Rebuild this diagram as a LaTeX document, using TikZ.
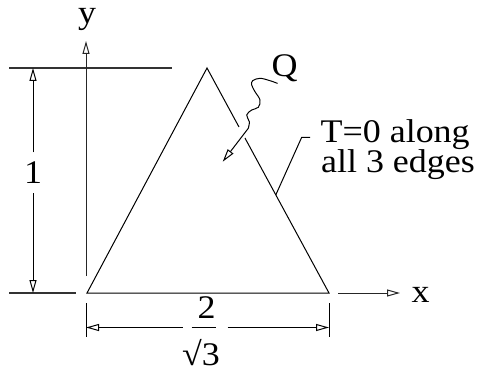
\documentclass[tikz,border=0pt]{standalone}
\usepackage{fontspec}
\setmainfont{Liberation Serif}
\usetikzlibrary{arrows.meta,calc}
\begin{document}
\begin{tikzpicture}[x=1pt,y=-1pt, line width=1pt,
  lbl/.style={font=\fontsize{33}{36}\selectfont, inner sep=0pt, xscale=1.09},
  tipd/.style={-{Triangle[open,length=13pt,width=7pt]}},
  refline/.style={line width=1.3pt, black!80}]
\useasboundingbox (0,0) rectangle (484,371);
% triangle
\coordinate (A) at (87,293);
\coordinate (B) at (329,293);
\coordinate (C) at (207,68);
\draw[line join=miter] ($(C)!0.262!(B)$) -- (C) -- (A) -- (B) -- ($(C)!0.311!(B)$);
% reference lines
\coordinate (rt1) at (9,68);
\coordinate (rt2) at (172,68);
\draw[refline] (rt1) -- (rt2);
\coordinate (rb1) at (9,293);
\coordinate (rb2) at (76,293);
\draw[refline] (rb1) -- (rb2);
% vertical dimension
\node[lbl, minimum height=40pt] (one) at (33,173) {1};
\coordinate (d1t) at (33,68);
\coordinate (d1b) at (33,293);
\draw[tipd] (one.north) -- (d1t);
\draw[tipd] (one.south) -- (d1b);
% axes
\coordinate (yb) at (86,276);
\coordinate (yt) at (86,41);
\draw[tipd, black!85] (yb) -- (yt);
\node[lbl, anchor=base] (ylab) at (87,23.5) {y};
\coordinate (xl) at (338,293);
\coordinate (xr) at (400,293);
\draw[tipd, black!85] (xl) -- (xr);
\node[lbl, anchor=base west] (xlab) at (411,302) {x};
% horizontal dimension
\coordinate (e1a) at (86,303);
\coordinate (e1b) at (86,337);
\coordinate (e2a) at (329,303);
\coordinate (e2b) at (329,337);
\draw (e1a) -- (e1b);
\draw (e2a) -- (e2b);
\node[minimum width=44pt, minimum height=2pt, inner sep=0pt] (frac) at (205,327.5) {};
\coordinate (dl) at (86,327.5);
\coordinate (dr) at (329,327.5);
\draw[tipd] (frac.west) -- (dl);
\draw[tipd] (frac.east) -- (dr);
\draw ($(frac.west)+(9,0)$) -- ($(frac.east)+(-12,0)$);
\node[lbl, anchor=base] (two) at (206.5,318) {2};
\node[lbl, anchor=base] (sq) at (201,365) {√3};
% Q heat flux
\node[lbl, anchor=base west] (Q) at (271,77) {Q};
\coordinate (qm) at (248.3,128.3);
\coordinate (qt) at (222.7,161.7);
\draw[line cap=round] plot[smooth, tension=0.6] coordinates {(277.3,83.3) (270,80.7) (260,78.3) (252.7,80.7) (251.7,85) (255,91.7) (260,100) (258.3,107.3) (251.7,110) (246.7,115) (249.3,121.7) (248.3,128.3)};
\draw[tipd] (qm) -- (qt);
% leader and boundary condition text
\coordinate (lp) at ($(C)!0.564!(B)$);
\coordinate (lk) at (301.7,137.3);
\coordinate (le) at (310,137.3);
\draw (lp) -- (lk) -- (le);
\node[lbl, anchor=base west] (t1) at (320,142.7) {T=0 along};
\node[lbl, anchor=base west] (t2) at (320.5,173) {all 3 edges};
\end{tikzpicture}
\end{document}
